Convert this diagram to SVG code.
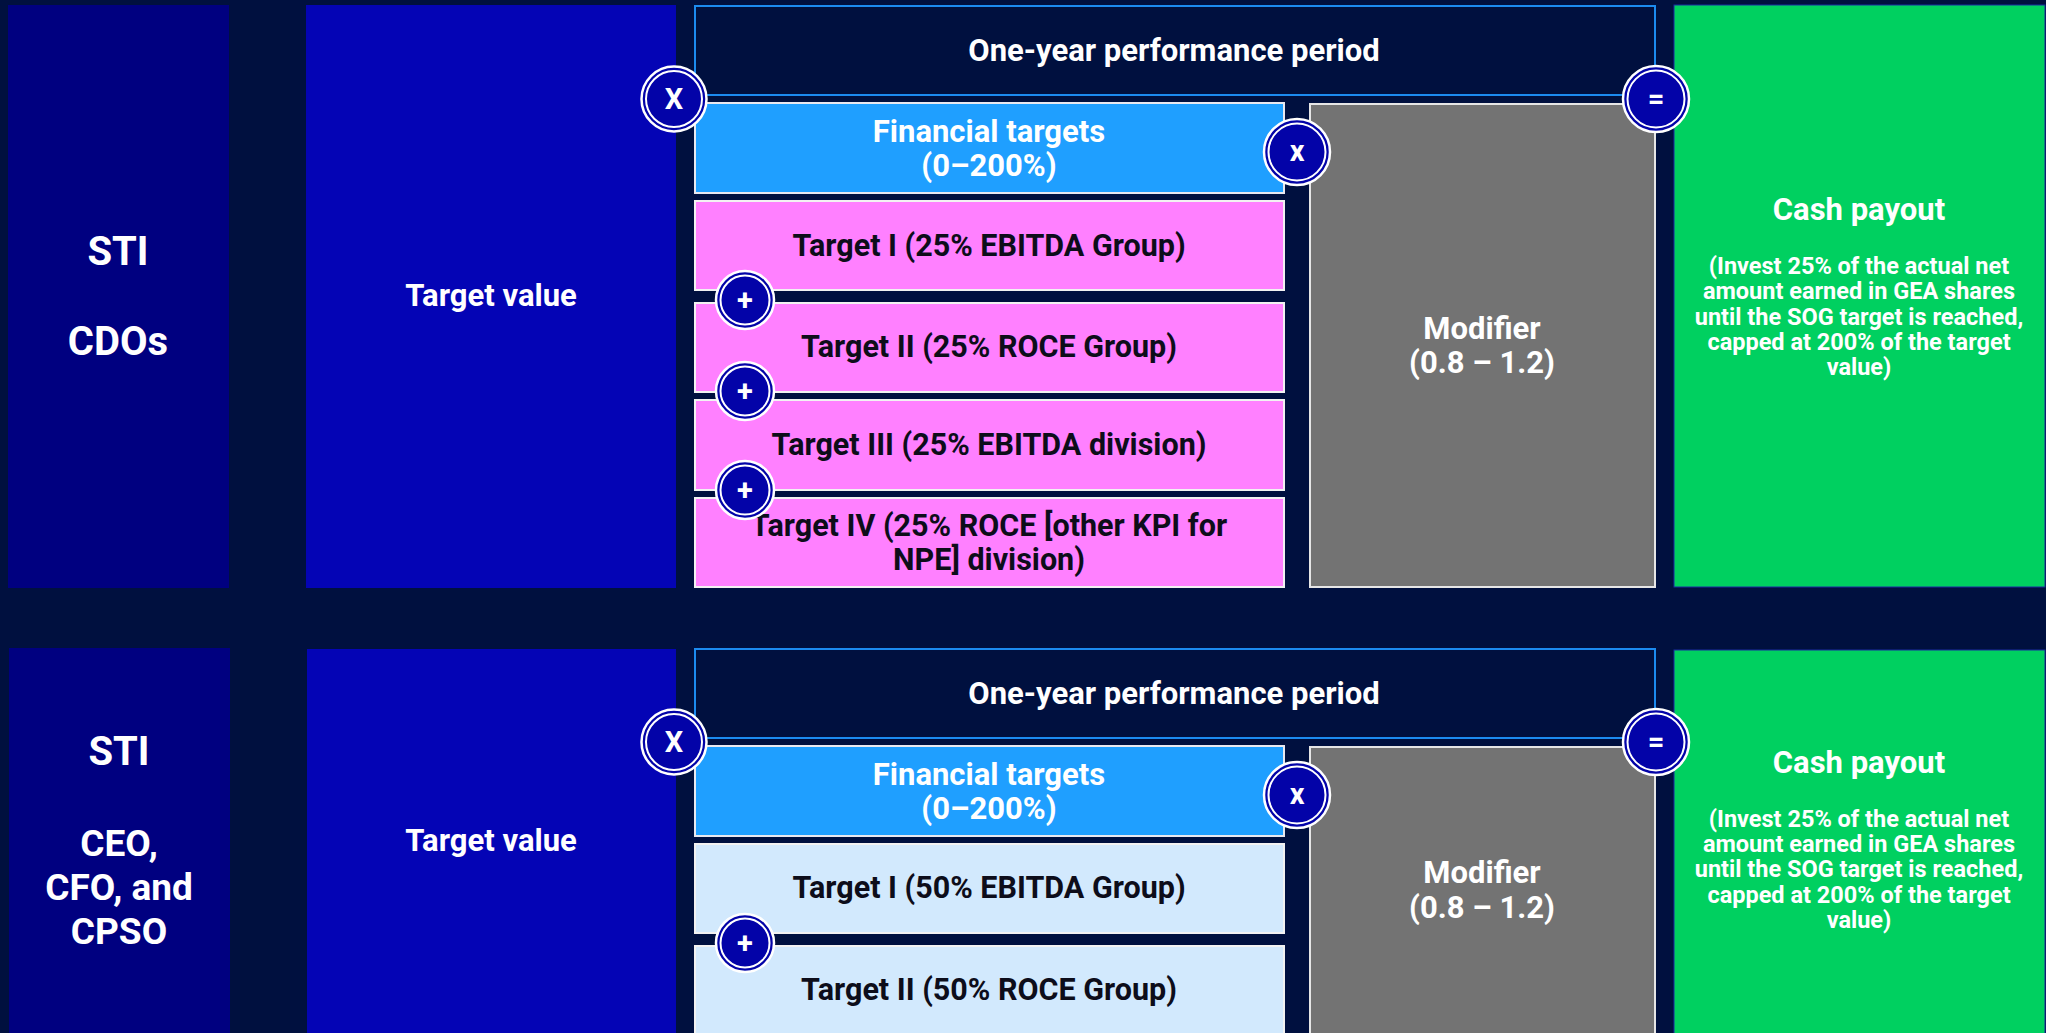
<svg xmlns="http://www.w3.org/2000/svg" width="2046" height="1033" viewBox="0 0 2046 1033">
<defs>
<style>
text{font-family:Roboto,"Liberation Sans",Arial,sans-serif;font-weight:700;text-anchor:middle}
.w{fill:#ffffff}
.d{fill:#0d0d1a}
.big{font-size:40px}
.big2{font-size:37px}
.hd{font-size:31px}
.tg{font-size:30.5px}
.sm{font-size:23.5px}
.op{font-size:29px}
.sti{fill:#000080}
.tv{fill:#0404B5}
.perf{fill:#00103F;stroke:#1C8BF0;stroke-width:2}
.fin{fill:#1F9FFF;stroke:#E8E8F0;stroke-width:2}
.pink{fill:#FF80FF;stroke:#F2F2F2;stroke-width:2}
.lb{fill:#D2E9FD;stroke:#F2F2F2;stroke-width:2}
.mod{fill:#737373;stroke:#E6E6E6;stroke-width:2}
.cash{fill:#00D060;stroke:#1A2BA0;stroke-width:1}
.ro{fill:#0303A8;stroke:#ffffff;stroke-width:2.5}
.ri{fill:none;stroke:#ffffff;stroke-width:2}
</style>
</defs>
<rect x="0" y="0" width="2046" height="1033" fill="#00103F"/>

<!-- Top section -->
<g id="sti-cdos">
<rect class="sti" x="8" y="5" width="221" height="583"/>
<text class="w big" x="118" y="265">STI</text>
<text class="w big" x="118" y="355">CDOs</text>
</g>
<g id="target-value-1">
<rect class="tv" x="306" y="5" width="370" height="583"/>
<text class="w hd" x="491" y="306">Target value</text>
</g>
<g id="perf-period-1">
<rect class="perf" x="695" y="6" width="960" height="89"/>
<text class="w hd" x="1174" y="61">One-year performance period</text>
</g>
<g id="financial-1">
<rect class="fin" x="695" y="103" width="589" height="90"/>
<text class="w hd" x="989" y="142">Financial targets</text>
<text class="w hd" x="989" y="176">(0–200%)</text>
</g>
<g id="target1-1">
<rect class="pink" x="695" y="201" width="589" height="89"/>
<text class="d tg" x="989" y="256">Target I (25% EBITDA Group)</text>
</g>
<g id="target2-1">
<rect class="pink" x="695" y="303" width="589" height="89"/>
<text class="d tg" x="989" y="357">Target II (25% ROCE Group)</text>
</g>
<g id="target3-1">
<rect class="pink" x="695" y="400" width="589" height="90"/>
<text class="d tg" x="989" y="455">Target III (25% EBITDA division)</text>
</g>
<g id="target4-1">
<rect class="pink" x="695" y="498" width="589" height="89"/>
<text class="d tg" x="989" y="536">Target IV (25% ROCE [other KPI for</text>
<text class="d tg" x="989" y="570">NPE] division)</text>
</g>
<g id="modifier-1">
<rect class="mod" x="1310" y="104" width="345" height="483"/>
<text class="w hd" x="1482" y="339">Modifier</text>
<text class="w hd" x="1482" y="373">(0.8 – 1.2)</text>
</g>
<g id="cash-1">
<rect class="cash" x="1674" y="5" width="371" height="582"/>
<text class="w hd" x="1859" y="220">Cash payout</text>
<text class="w sm" x="1859" y="274">(Invest 25% of the actual net</text>
<text class="w sm" x="1859" y="299">amount earned in GEA shares</text>
<text class="w sm" x="1859" y="325">until the SOG target is reached,</text>
<text class="w sm" x="1859" y="350">capped at 200% of the target</text>
<text class="w sm" x="1859" y="375">value)</text>
</g>

<!-- Bottom section -->
<g id="sti-ceo">
<rect class="sti" x="9" y="648" width="221" height="400"/>
<text class="w big" x="119" y="765">STI</text>
<text class="w big2" x="119" y="856">CEO,</text>
<text class="w big2" x="119" y="900">CFO, and</text>
<text class="w big2" x="119" y="944">CPSO</text>
</g>
<g id="target-value-2">
<rect class="tv" x="307" y="649" width="369" height="400"/>
<text class="w hd" x="491" y="851">Target value</text>
</g>
<g id="perf-period-2">
<rect class="perf" x="695" y="649" width="960" height="89"/>
<text class="w hd" x="1174" y="704">One-year performance period</text>
</g>
<g id="financial-2">
<rect class="fin" x="695" y="746" width="589" height="90"/>
<text class="w hd" x="989" y="785">Financial targets</text>
<text class="w hd" x="989" y="819">(0–200%)</text>
</g>
<g id="target1-2">
<rect class="lb" x="695" y="844" width="589" height="89"/>
<text class="d tg" x="989" y="898">Target I (50% EBITDA Group)</text>
</g>
<g id="target2-2">
<rect class="lb" x="695" y="946" width="589" height="100"/>
<text class="d tg" x="989" y="1000">Target II (50% ROCE Group)</text>
</g>
<g id="modifier-2">
<rect class="mod" x="1310" y="747" width="345" height="300"/>
<text class="w hd" x="1482" y="883">Modifier</text>
<text class="w hd" x="1482" y="918">(0.8 – 1.2)</text>
</g>
<g id="cash-2">
<rect class="cash" x="1674" y="650" width="371" height="400"/>
<text class="w hd" x="1859" y="773">Cash payout</text>
<text class="w sm" x="1859" y="827">(Invest 25% of the actual net</text>
<text class="w sm" x="1859" y="852">amount earned in GEA shares</text>
<text class="w sm" x="1859" y="877">until the SOG target is reached,</text>
<text class="w sm" x="1859" y="903">capped at 200% of the target</text>
<text class="w sm" x="1859" y="928">value)</text>
</g>

<g id="connectors">
<g id="op-x-1" transform="translate(674,99)">
<circle class="ro" r="32.5"/><circle class="ri" r="28"/>
<text class="w op" y="10">X</text>
</g>
<g id="op-mult-1" transform="translate(1297,152)">
<circle class="ro" r="33"/><circle class="ri" r="28.5"/>
<text class="w op" y="9">x</text>
</g>
<g id="op-eq-1" transform="translate(1656,99)">
<circle class="ro" r="33"/><circle class="ri" r="28.5"/>
<text class="w op" y="10">=</text>
</g>
<g id="op-plus-1a" transform="translate(745,300)">
<circle class="ro" r="29"/><circle class="ri" r="24.5"/>
<text class="w op" y="10">+</text>
</g>
<g id="op-plus-1b" transform="translate(745,391)">
<circle class="ro" r="29"/><circle class="ri" r="24.5"/>
<text class="w op" y="10">+</text>
</g>
<g id="op-plus-1c" transform="translate(745,490)">
<circle class="ro" r="29"/><circle class="ri" r="24.5"/>
<text class="w op" y="10">+</text>
</g>
<g id="op-x-2" transform="translate(674,742)">
<circle class="ro" r="32.5"/><circle class="ri" r="28"/>
<text class="w op" y="10">X</text>
</g>
<g id="op-mult-2" transform="translate(1297,795)">
<circle class="ro" r="33"/><circle class="ri" r="28.5"/>
<text class="w op" y="9">x</text>
</g>
<g id="op-eq-2" transform="translate(1656,742)">
<circle class="ro" r="33"/><circle class="ri" r="28.5"/>
<text class="w op" y="10">=</text>
</g>
<g id="op-plus-2" transform="translate(745,943)">
<circle class="ro" r="29"/><circle class="ri" r="24.5"/>
<text class="w op" y="10">+</text>
</g>
</g>
</svg>
